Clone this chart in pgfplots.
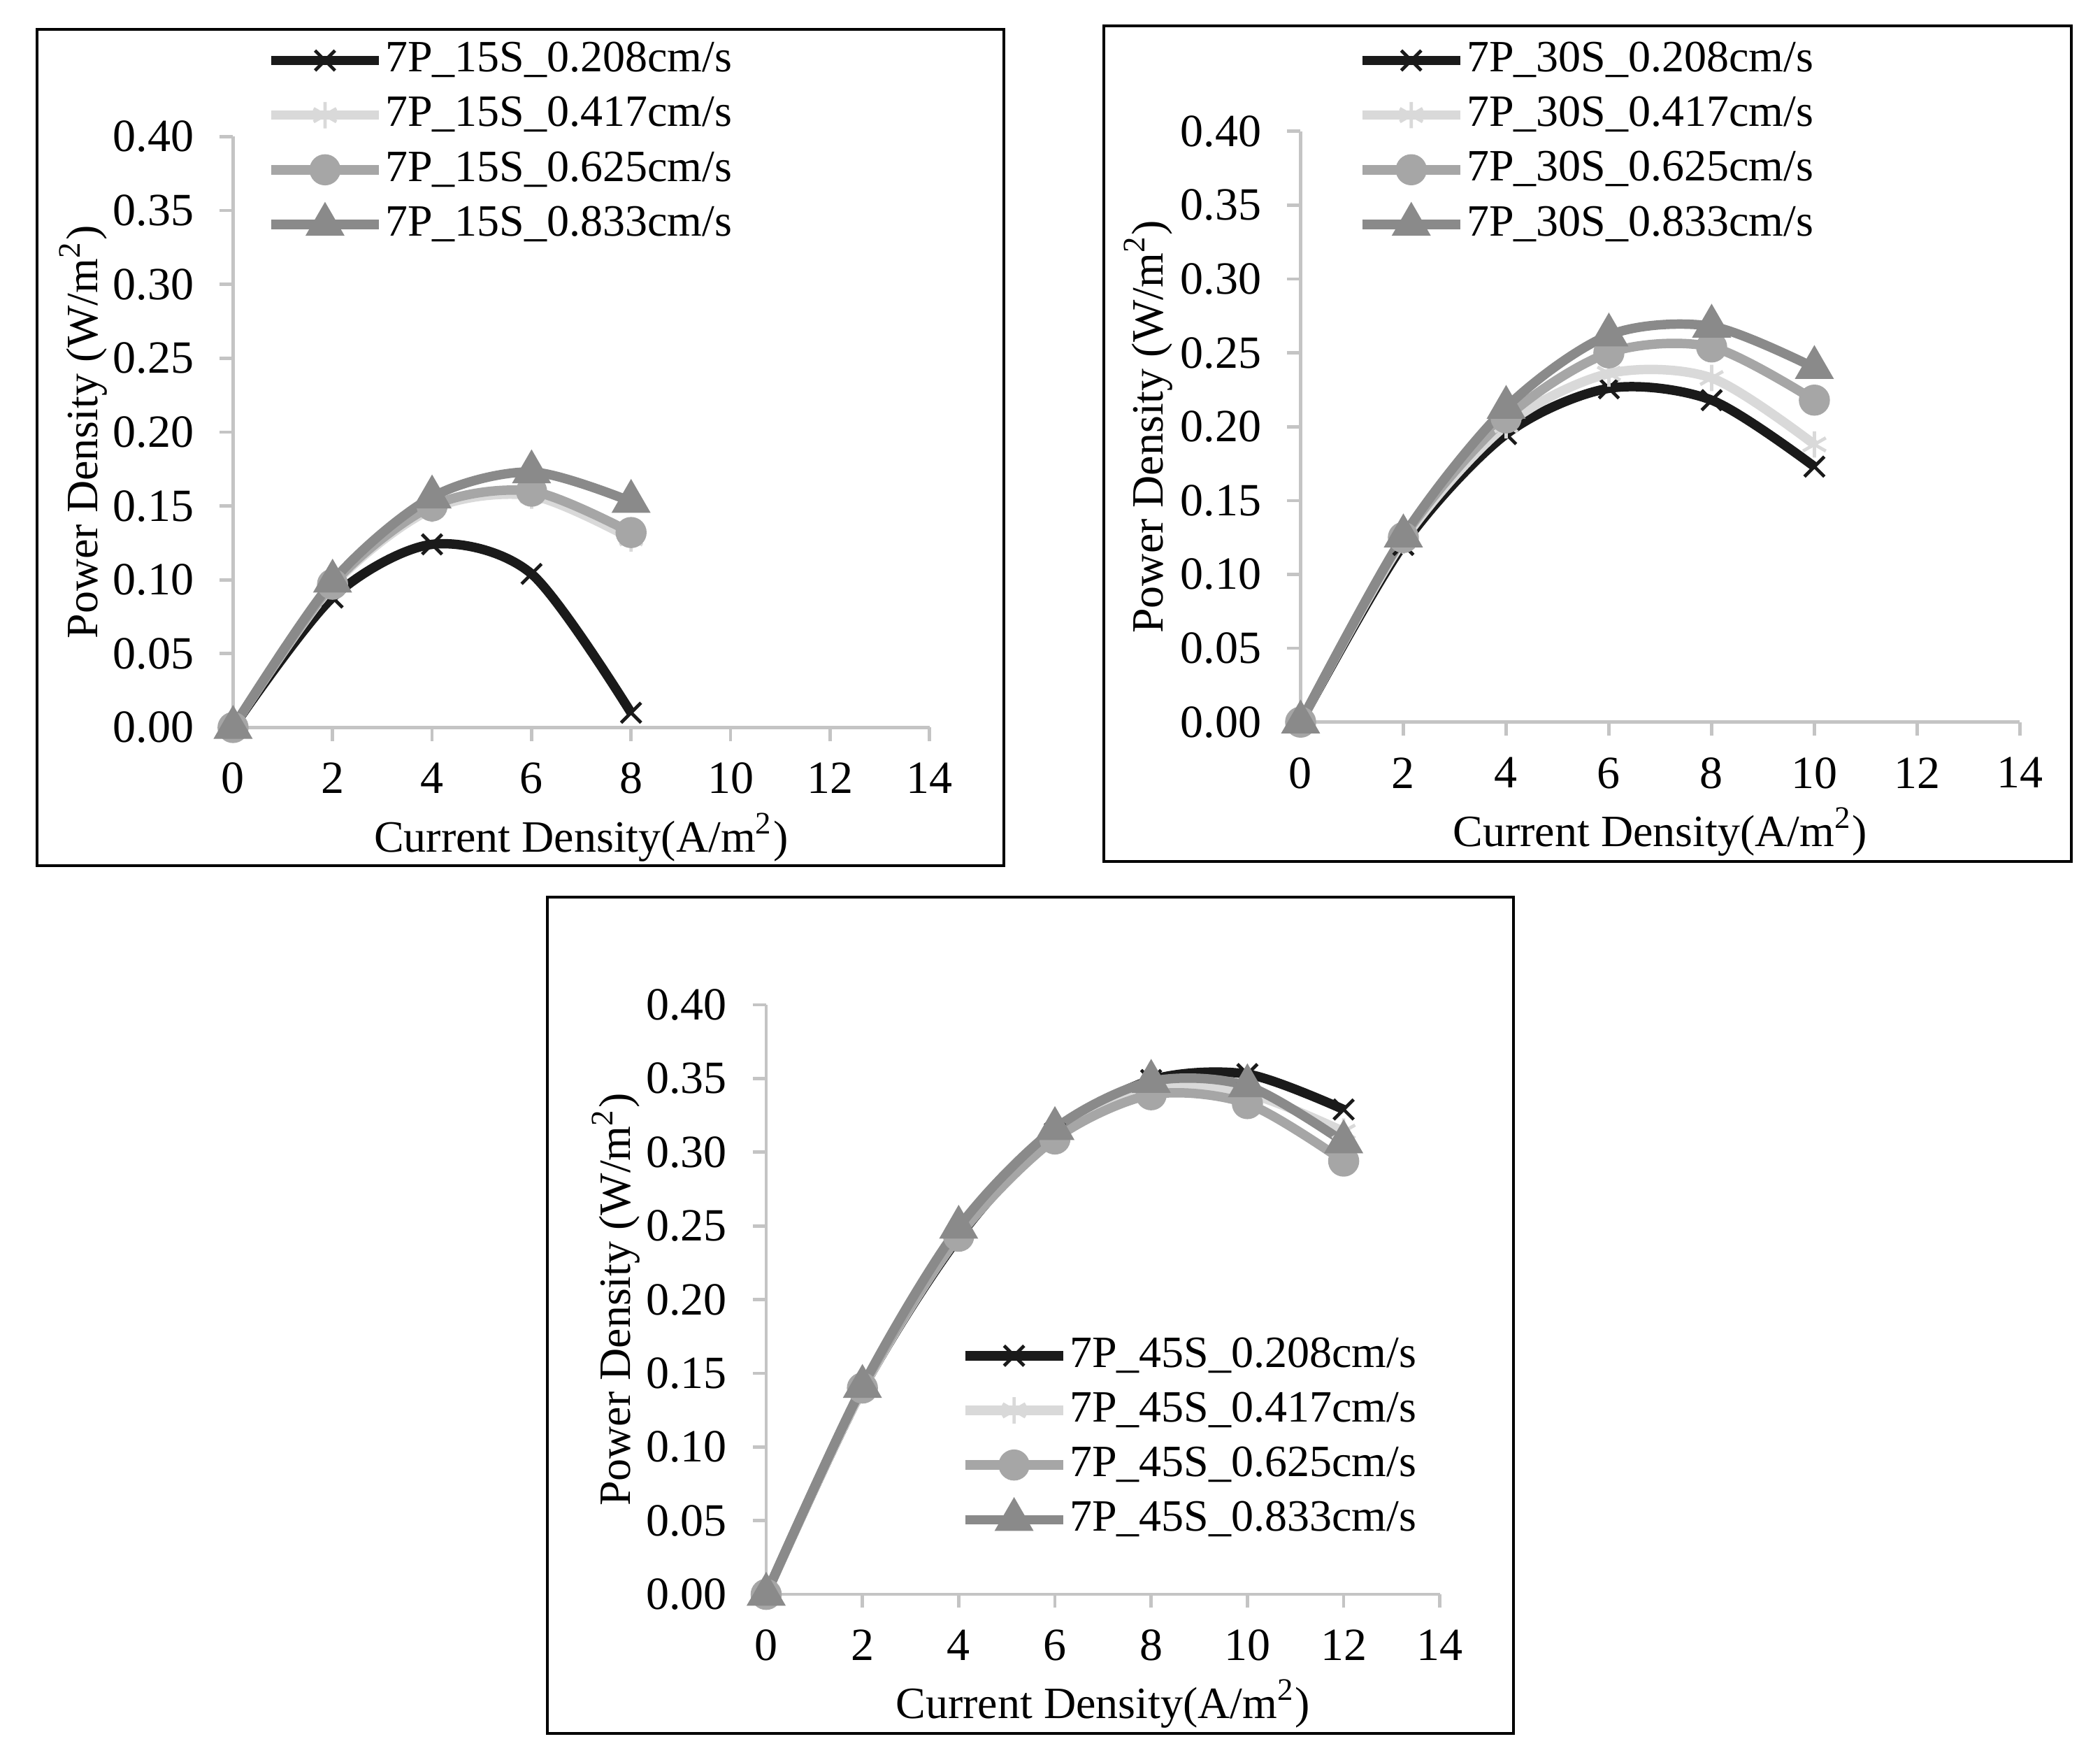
\documentclass[border=0pt]{standalone}
\usepackage{fontspec}
\setmainfont{Liberation Serif}
\usepackage{pgfplots}
\pgfplotsset{compat=1.18}
\definecolor{sA}{HTML}{1A1A1A}
\definecolor{sB}{HTML}{D9D9D9}
\definecolor{sC}{HTML}{A6A6A6}
\definecolor{sD}{HTML}{8A8A8A}
\definecolor{axc}{HTML}{C4C4C4}
\newcommand{\fs}{\fontsize{9.5pt}{11pt}\selectfont}
\newcommand{\ft}{\fontsize{9.8pt}{11pt}\selectfont}
\pgfplotsset{
  panel/.style={
    scale only axis,
    axis x line=bottom, axis y line=left,
    axis line style={axc, line width=0.7pt, -},
    tick style={axc, line width=0.7pt},
    tick align=outside,
    major tick length=0.1cm,
    xmin=0, xmax=14, ymin=0, ymax=0.4,
    xtick={0,2,...,14},
    ytick={0,0.05,...,0.40},
    yticklabel style={xshift=-0.07cm, /pgf/number format/.cd, fixed, fixed zerofill, precision=2},
    xticklabel style={yshift=-0.04cm},
    /pgf/number format/assume math mode=true,
    tick label style={font=\ft, text=black},
    label style={font=\fs},
    xlabel={Current Density(A/m\textsuperscript{2})},
    ylabel={Power Density (W/m\textsuperscript{2})},
    clip=false,
    legend cell align=left,
    legend style={draw=none, fill=none, font=\fs, inner sep=0pt, row sep=0.103cm,
      nodes={inner sep=0.015cm}},
    legline/.initial=0.8cm,
    legend image code/.code={
      \draw[mark repeat=2,mark phase=2] plot coordinates {(0cm,0cm) (0.5*\pgfkeysvalueof{/pgfplots/legline},0cm) (\pgfkeysvalueof{/pgfplots/legline},0cm)};
    },
  },
  s1/.style={color=sA, line width=2pt, smooth, mark=x, mark size=3pt, mark options={solid, line width=0.7pt, color=sA}},
  s2/.style={color=sB, line width=2pt, smooth, mark=asterisk, mark size=2.8pt, mark options={solid, line width=0.7pt, color=sB}},
  s3/.style={color=sC, line width=2pt, smooth, mark=*, mark size=2.3pt, mark options={solid, fill=sC, draw=sC}},
  s4/.style={color=sD, line width=2pt, smooth, mark=triangle*, mark size=2.8pt, mark options={solid, fill=sD, draw=sD}},
}
\begin{document}
\begin{tikzpicture}
\useasboundingbox (0,0) rectangle (15.678,-13.136);
% frames
\draw[black, line width=0.6pt] (0.277,-0.219) rectangle (7.495,-6.461);
\draw[black, line width=0.6pt] (8.241,-0.193) rectangle (15.465,-6.430);
\draw[black, line width=0.6pt] (4.087,-6.696) rectangle (11.300,-12.938);

% panel 1
\begin{axis}[panel, at={(1.74cm,-5.43cm)}, anchor=south west, width=5.2cm, height=4.41cm,
  xlabel style={at={(axis description cs:0.5,-0.186)}, anchor=center},
  ylabel style={at={(axis description cs:-0.215,0.5)}, anchor=center},
  legend style={at={(0.047,1.165)}, anchor=north west}]
\addplot[s1] coordinates {(0,0) (2,0.088) (4,0.124) (6,0.104) (8,0.010)};
\addlegendentry{7P\_15S\_0.208cm/s}
\addplot[s2] coordinates {(0,0) (2,0.096) (4,0.148) (6,0.157) (8,0.128)};
\addlegendentry{7P\_15S\_0.417cm/s}
\addplot[s3] coordinates {(0,0) (2,0.097) (4,0.150) (6,0.160) (8,0.132)};
\addlegendentry{7P\_15S\_0.625cm/s}
\addplot[s4] coordinates {(0,0) (2,0.099) (4,0.156) (6,0.173) (8,0.153)};
\addlegendentry{7P\_15S\_0.833cm/s}
\end{axis}

% panel 2
\begin{axis}[panel, legline=0.73cm, at={(9.71cm,-5.39cm)}, anchor=south west, width=5.37cm, height=4.41cm,
  xlabel style={at={(axis description cs:0.5,-0.186)}, anchor=center},
  ylabel style={at={(axis description cs:-0.212,0.5)}, anchor=center},
  legend style={at={(0.078,1.156)}, anchor=north west}]
\addplot[s1] coordinates {(0,0) (2,0.120) (4,0.195) (6,0.226) (8,0.218) (10,0.173)};
\addlegendentry{7P\_30S\_0.208cm/s}
\addplot[s2] coordinates {(0,0) (2,0.123) (4,0.201) (6,0.236) (8,0.233) (10,0.188)};
\addlegendentry{7P\_30S\_0.417cm/s}
\addplot[s3] coordinates {(0,0) (2,0.125) (4,0.206) (6,0.250) (8,0.254) (10,0.218)};
\addlegendentry{7P\_30S\_0.625cm/s}
\addplot[s4] coordinates {(0,0) (2,0.126) (4,0.213) (6,0.262) (8,0.268) (10,0.240)};
\addlegendentry{7P\_30S\_0.833cm/s}
\end{axis}

% panel 3
\begin{axis}[panel, legline=0.73cm, at={(5.72cm,-11.90cm)}, anchor=south west, width=5.03cm, height=4.40cm,
  xlabel style={at={(axis description cs:0.5,-0.186)}, anchor=center},
  ylabel style={at={(axis description cs:-0.223,0.5)}, anchor=center},
  legend style={at={(0.287,0.441)}, anchor=north west}]
\addplot[s1] coordinates {(0,0) (2,0.139) (4,0.242) (6,0.313) (8,0.349) (10,0.353) (12,0.329)};
\addlegendentry{7P\_45S\_0.208cm/s}
\addplot[s2] coordinates {(0,0) (2,0.139) (4,0.243) (6,0.311) (8,0.343) (10,0.340) (12,0.314)};
\addlegendentry{7P\_45S\_0.417cm/s}
\addplot[s3] coordinates {(0,0) (2,0.140) (4,0.243) (6,0.309) (8,0.339) (10,0.333) (12,0.294)};
\addlegendentry{7P\_45S\_0.625cm/s}
\addplot[s4] coordinates {(0,0) (2,0.141) (4,0.249) (6,0.316) (8,0.348) (10,0.345) (12,0.307)};
\addlegendentry{7P\_45S\_0.833cm/s}
\end{axis}
\end{tikzpicture}
\end{document}
